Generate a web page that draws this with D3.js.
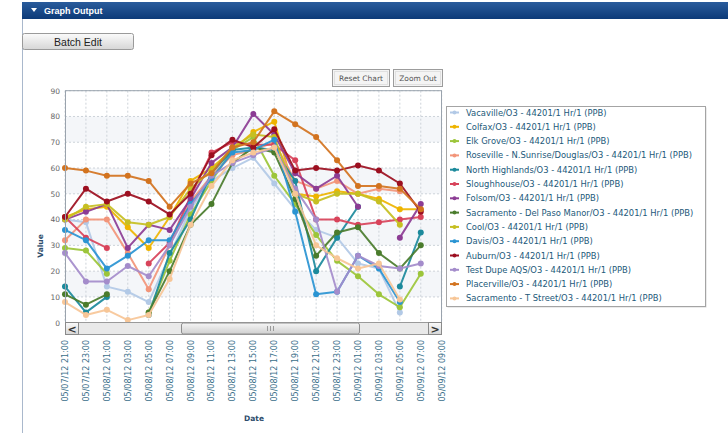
<!DOCTYPE html>
<html>
<head>
<meta charset="utf-8">
<script src="https://cdn.jsdelivr.net/npm/d3@7/dist/d3.min.js"></script>
<style>
  html, body { margin: 0; padding: 0; background: #fff; }
  svg { display: block; }
  text { font-family: "DejaVu Sans", Verdana, sans-serif; }
</style>
</head>
<body>
<svg id="chart" width="728" height="433"></svg>
<script>
// ---------------- DATA ----------------
const categories = [
  "05/07/12 21:00", "05/07/12 23:00", "05/08/12 01:00", "05/08/12 03:00",
  "05/08/12 05:00", "05/08/12 07:00", "05/08/12 09:00", "05/08/12 11:00",
  "05/08/12 13:00", "05/08/12 15:00", "05/08/12 17:00", "05/08/12 19:00",
  "05/08/12 21:00", "05/08/12 23:00", "05/09/12 01:00", "05/09/12 03:00",
  "05/09/12 05:00", "05/09/12 07:00", "05/09/12 09:00"
];
const yTicks = [0, 10, 20, 30, 40, 50, 60, 70, 80, 90];

const seriesNames = [
  "Vacaville/O3 - 44201/1 Hr/1 (PPB)",
  "Colfax/O3 - 44201/1 Hr/1 (PPB)",
  "Elk Grove/O3 - 44201/1 Hr/1 (PPB)",
  "Roseville - N.Sunrise/Douglas/O3 - 44201/1 Hr/1 (PPB)",
  "North Highlands/O3 - 44201/1 Hr/1 (PPB)",
  "Sloughhouse/O3 - 44201/1 Hr/1 (PPB)",
  "Folsom/O3 - 44201/1 Hr/1 (PPB)",
  "Sacramento - Del Paso Manor/O3 - 44201/1 Hr/1 (PPB)",
  "Cool/O3 - 44201/1 Hr/1 (PPB)",
  "Davis/O3 - 44201/1 Hr/1 (PPB)",
  "Auburn/O3 - 44201/1 Hr/1 (PPB)",
  "Test Dupe AQS/O3 - 44201/1 Hr/1 (PPB)",
  "Placerville/O3 - 44201/1 Hr/1 (PPB)",
  "Sacramento - T Street/O3 - 44201/1 Hr/1 (PPB)"
];
const seriesColors = [
  "#b2c9e6", "#eeb400", "#9cc53a", "#f2957a", "#1c8a9c", "#d8435a", "#8c3c94",
  "#4a7c2c", "#c6bf22", "#2a94d2", "#9c0f20", "#a48ccb", "#d2731f", "#f7c697"
];

const vacaville      = [40, 39, 14, 12, 8, 26, 44, 55, 60, 64, 54, 44, 36, 33, 23, 21, 4, null];
const colfax         = [41, 44, 45, 37, 29, 41, 55, 60, 67, 74, 78, 50, 49, 51, 50, 48, 44, 44];
const elkGrove       = [29, 28, 19, null, 4, 24, 42, 55, 67, 72, 57, 46, 34, 24, 18, 11, 6, 19];
const roseville      = [32, 40, 40, 27, 13, 30, 47, 57, 65, 67, 70, 55, 52, 55, 50, 52, 51, null];
const northHighlands = [14, 4, 10, null, 3, 27, 40, 58, 67, 68, 67, 55, 20, 33, 45, null, 14, 35];
const sloughhouse    = [41, 33, 29, null, 23, 31, 49, 66, 70, 69, 69, 63, 40, 40, 38, 39, 40, 41];
const folsom         = [40, 43, 46, 29, 38, 36, 48, 62, 68, 81, 73, 58, 52, 57, 45, null, 33, 46];
const delPasoManor   = [11, 7, 11, null, 4, 20, 38, 46, 62, 68, 66, 48, 26, 35, 37, 27, 21, 30];
const cool           = [40, 45, 46, 39, 38, 41, 52, 59, 68, 73, 72, 50, 47, 50, 50, 47, 38, null];
const davis          = [36, 32, 21, 26, 32, 32, 46, 56, 66, 67, 71, 43, 11, 12, 26, 21, 8, null];
const auburn         = [41, 52, 47, 50, 47, 42, 50, 65, 71, 68, 75, 59, 60, 59, 61, 59, 54, 43];
const testDupe       = [27, 16, 16, 22, 18, 30, 45, 57, 62, 65, 68, 52, 40, 12, 26, 22, 21, 23];
const placerville    = [60, 59, 57, 57, 55, 45, 54, 58, 68, 70, 82, 77, 72, 63, 53, 53, 52, 44];
const tStreet        = [8, 3, 5, 1, 3, 17, 38, 53, 63, 66, 68, 50, 30, 25, 21, 23, 9, null];

const seriesValues = [vacaville, colfax, elkGrove, roseville, northHighlands, sloughhouse,
  folsom, delPasoManor, cool, davis, auburn, testDupe, placerville, tStreet];

// ---------------- LAYOUT ----------------
const svg = d3.select("#chart");
const W = 728, H = 433;
const plot = { left: 65, right: 442, top: 90.7, bottom: 322.7 };

const defs = svg.append("defs");
const hdr = defs.append("linearGradient").attr("id", "hdr").attr("x1", 0).attr("y1", 0).attr("x2", 0).attr("y2", 1);
hdr.append("stop").attr("offset", 0).attr("stop-color", "#2a5c9c");
hdr.append("stop").attr("offset", 1).attr("stop-color", "#0c3a78");
const btn = defs.append("linearGradient").attr("id", "btn").attr("x1", 0).attr("y1", 0).attr("x2", 0).attr("y2", 1);
btn.append("stop").attr("offset", 0).attr("stop-color", "#fbfbfb");
btn.append("stop").attr("offset", 1).attr("stop-color", "#d6d6d6");
const thumb = defs.append("linearGradient").attr("id", "thumb").attr("x1", 0).attr("y1", 0).attr("x2", 0).attr("y2", 1);
thumb.append("stop").attr("offset", 0).attr("stop-color", "#f6f6f6");
thumb.append("stop").attr("offset", 1).attr("stop-color", "#cfcfcf");

// page
svg.append("rect").attr("width", W).attr("height", H).attr("fill", "#fff");
svg.append("line").attr("x1", 22.5).attr("x2", 22.5).attr("y1", 18).attr("y2", H)
  .attr("stroke", "#a9b8cc").attr("stroke-width", 1);

// header bar
svg.append("rect").attr("x", 22).attr("y", 2).attr("width", W - 22).attr("height", 17)
  .attr("fill", "url(#hdr)");
svg.append("path").attr("d", "M31,8 L37,8 L34,12 Z").attr("fill", "#fff");
svg.append("text").attr("x", 44).attr("y", 14).attr("fill", "#fff")
  .attr("font-weight", "bold").attr("font-size", 9)
  .style("font-family", "'Liberation Sans', Arial, sans-serif")
  .text("Graph Output");

// Batch Edit button
svg.append("rect").attr("x", 22.5).attr("y", 33.5).attr("width", 111).attr("height", 16).attr("rx", 2)
  .attr("fill", "url(#btn)").attr("stroke", "#9a9a9a");
svg.append("text").attr("x", 78).attr("y", 45.5).attr("text-anchor", "middle")
  .style("font-family", "'Liberation Sans', Arial, sans-serif").attr("font-size", 10.5).attr("fill", "#222")
  .text("Batch Edit");

// Reset Chart / Zoom Out buttons
function smallButton(x, w, label) {
  svg.append("rect").attr("x", x + 0.5).attr("y", 69.5).attr("width", w).attr("height", 17)
    .attr("fill", "#f4f4f4").attr("stroke", "#9c9c9c");
  svg.append("rect").attr("x", x + 2.5).attr("y", 71.5).attr("width", w - 4).attr("height", 13)
    .attr("fill", "none").attr("stroke", "#e0e0e0");
  svg.append("text").attr("x", x + w / 2 + 0.5).attr("y", 81).attr("text-anchor", "middle")
    .attr("font-size", 7.5).attr("fill", "#555").text(label);
}
smallButton(332, 57, "Reset Chart");
smallButton(393, 49, "Zoom Out");

// scales
const x = d3.scalePoint().domain(categories).range([plot.left, 441.7]);
const y = d3.scaleLinear().domain([0, 90]).range([plot.bottom, plot.top]);

// plot background bands
const g = svg.append("g");
g.append("rect").attr("x", plot.left).attr("y", plot.top).attr("width", plot.right - plot.left)
  .attr("height", plot.bottom - plot.top).attr("fill", "#ffffff");
g.selectAll("rect.band").data(yTicks.slice(0, -1).filter((d, i) => i % 2 === 1)).enter()
  .append("rect").attr("class", "band")
  .attr("x", plot.left).attr("width", plot.right - plot.left)
  .attr("y", d => y(d + 10)).attr("height", d => y(d) - y(d + 10))
  .attr("fill", "#f4f6f9");

// grid
g.selectAll("line.hg").data(yTicks).enter().append("line").attr("class", "hg")
  .attr("x1", plot.left).attr("x2", plot.right).attr("y1", d => y(d)).attr("y2", d => y(d))
  .attr("stroke", "#cdd3d9").attr("stroke-dasharray", "2,2").attr("stroke-width", 1);
g.selectAll("line.vg").data(categories).enter().append("line").attr("class", "vg")
  .attr("x1", d => x(d)).attr("x2", d => x(d)).attr("y1", plot.top).attr("y2", plot.bottom)
  .attr("stroke", "#cdd3d9").attr("stroke-dasharray", "2,2").attr("stroke-width", 1);

// y axis labels
const yAxis = d3.axisLeft(y).tickValues(yTicks).tickSize(0).tickPadding(5);
const ya = svg.append("g").attr("transform", `translate(${plot.left},0)`).call(yAxis);
ya.select(".domain").remove();
ya.selectAll("text").attr("font-size", 7.5).attr("fill", "#666")
  .style("font-family", "'DejaVu Sans', Verdana, sans-serif");

// series
const clip = defs.append("clipPath").attr("id", "pc");
clip.append("rect").attr("x", plot.left - 4).attr("y", plot.top).attr("width", plot.right - plot.left + 4)
  .attr("height", plot.bottom - plot.top + 4);

const line = d3.line()
  .defined(d => d.v != null)
  .x(d => x(d.c)).y(d => y(d.v));

const sg = svg.append("g").attr("clip-path", "url(#pc)");
seriesValues.forEach((vals, si) => {
  const pts = vals.map((v, i) => ({ c: categories[i], v }));
  const col = seriesColors[si];
  sg.append("path").datum(pts).attr("d", line).attr("fill", "none")
    .attr("stroke", col).attr("stroke-width", 2).attr("stroke-opacity", 0.92)
    .attr("stroke-linejoin", "round");
  sg.selectAll(null).data(pts.filter(p => p.v != null)).enter().append("circle")
    .attr("cx", d => x(d.c)).attr("cy", d => y(d.v)).attr("r", 3)
    .attr("fill", col);
});

// plot border
svg.append("rect").attr("x", plot.left + 0.5).attr("y", plot.top).attr("width", plot.right - plot.left - 1)
  .attr("height", plot.bottom - plot.top).attr("fill", "none").attr("stroke", "#9aa3ad");

// scrollbar
const sb = { y: 322.5, h: 12 };
svg.append("rect").attr("x", plot.left + 0.5).attr("y", sb.y).attr("width", plot.right - plot.left - 1)
  .attr("height", sb.h).attr("fill", "#e9e9e9").attr("stroke", "#9a9a9a");
[[plot.left + 0.5, "<"], [plot.right - 13.5, ">"]].forEach(([bx, ch]) => {
  svg.append("rect").attr("x", bx).attr("y", sb.y).attr("width", 13).attr("height", sb.h)
    .attr("fill", "url(#btn)").attr("stroke", "#8a8a8a");
  svg.append("text").attr("x", bx + 6.5).attr("y", sb.y + 10).attr("text-anchor", "middle")
    .attr("font-size", 11).attr("font-weight", "bold").attr("fill", "#333").text(ch);
});
svg.append("rect").attr("x", 181.5).attr("y", sb.y + 0.5).attr("width", 178).attr("height", sb.h - 1)
  .attr("rx", 2).attr("fill", "url(#thumb)").attr("stroke", "#8e8e8e");
[267, 270, 273].forEach(gx => {
  svg.append("line").attr("x1", gx + 0.5).attr("x2", gx + 0.5).attr("y1", sb.y + 3.5).attr("y2", sb.y + 8.5)
    .attr("stroke", "#9a9a9a");
});

// x tick labels (rotated)
const xa = svg.append("g");
xa.selectAll("text").data(categories).enter().append("text")
  .attr("transform", d => `translate(${x(d) + 3},340) rotate(-90)`)
  .attr("text-anchor", "end").attr("font-size", 8).attr("fill", "#3a6f8a")
  .text(d => d);

// axis titles
svg.append("text").attr("transform", "translate(43,246) rotate(-90)").attr("text-anchor", "middle")
  .attr("font-size", 7.5).attr("font-weight", "bold").attr("fill", "#2d4d6c").text("Value");
svg.append("text").attr("x", 254).attr("y", 421).attr("text-anchor", "middle")
  .attr("font-size", 7.5).attr("font-weight", "bold").attr("fill", "#2d4d6c").text("Date");

// legend
const lg = { x: 446.5, y: 106.5, w: 259, h: 200 };
svg.append("rect").attr("x", lg.x + 1).attr("y", lg.y + 1).attr("width", lg.w).attr("height", lg.h)
  .attr("fill", "#d8d8d8");
svg.append("rect").attr("x", lg.x).attr("y", lg.y).attr("width", lg.w).attr("height", lg.h)
  .attr("fill", "#fff").attr("stroke", "#a4a4a4");
const li = svg.append("g").selectAll("g").data(seriesNames).enter().append("g")
  .attr("transform", (d, i) => `translate(0,${112.5 + i * 14.3})`);
li.append("line").attr("x1", 450).attr("x2", 459).attr("y1", 0).attr("y2", 0)
  .attr("stroke", (d, i) => seriesColors[i]).attr("stroke-width", 2);
li.append("circle").attr("cx", 454.5).attr("cy", 0).attr("r", 2)
  .attr("fill", (d, i) => seriesColors[i]);
li.append("text").attr("x", 466).attr("y", 3).attr("font-size", 8.4).attr("fill", "#22597a")
  .text(d => d);
</script>
</body>
</html>
